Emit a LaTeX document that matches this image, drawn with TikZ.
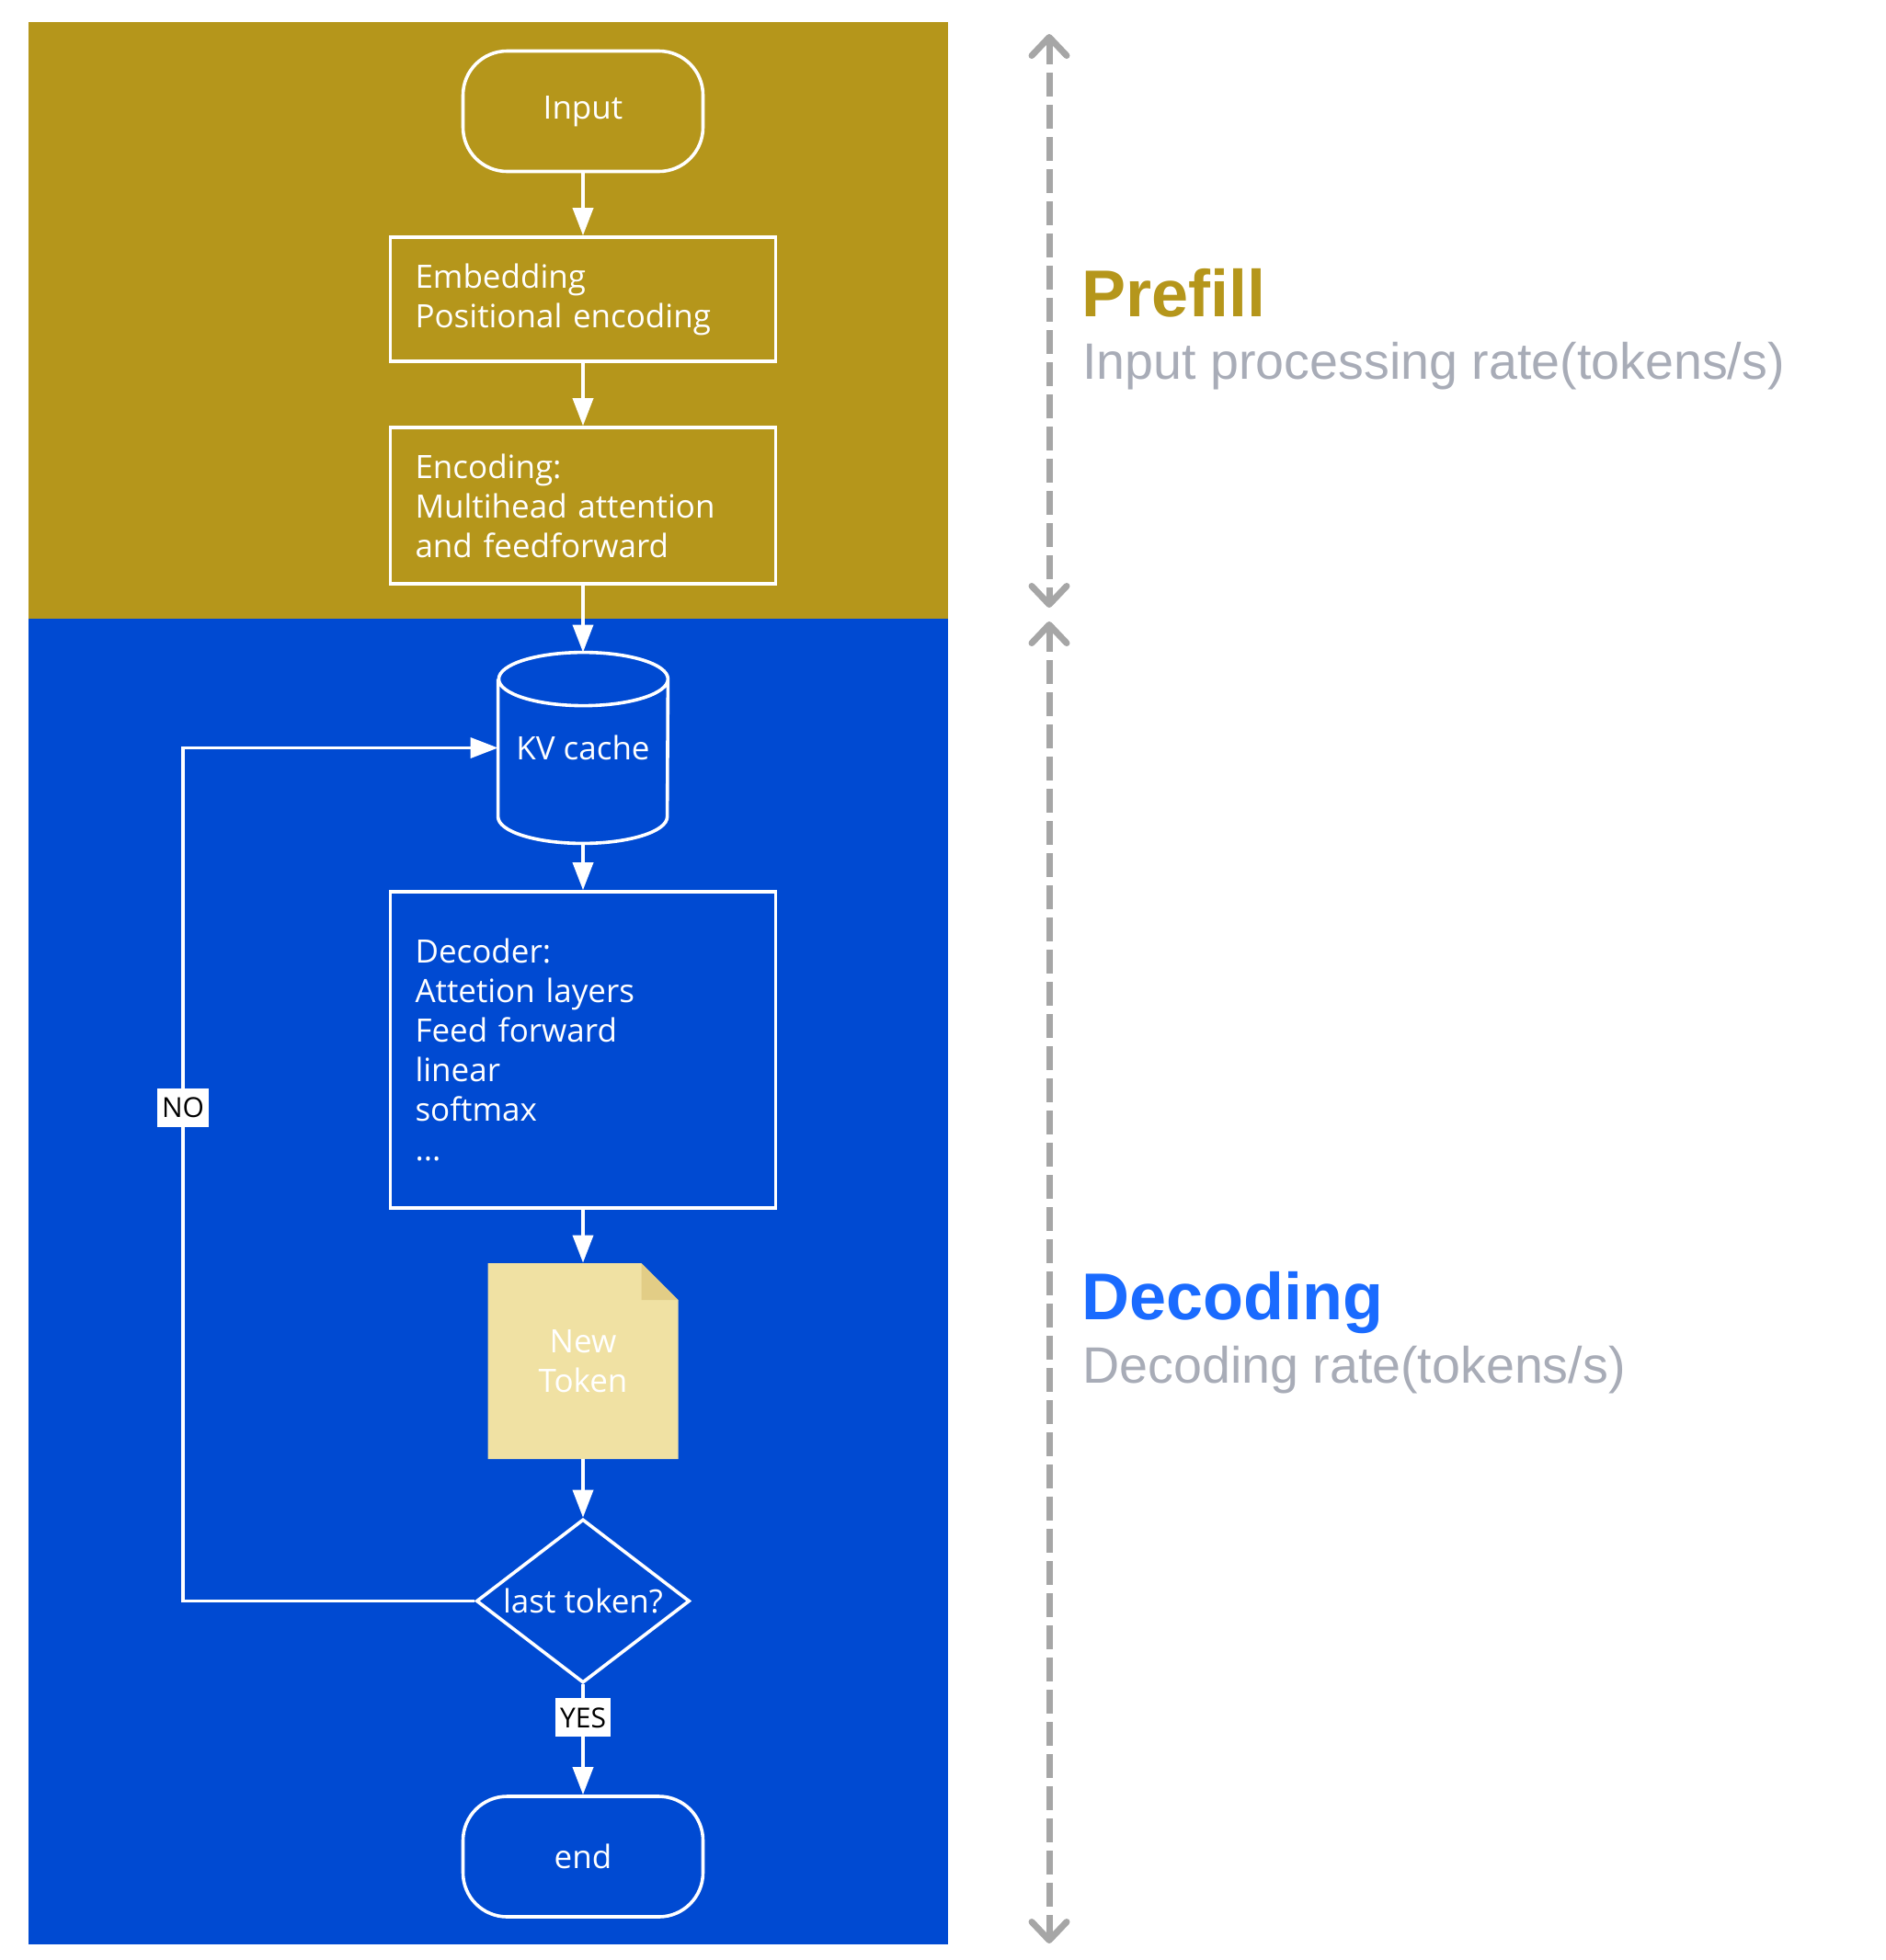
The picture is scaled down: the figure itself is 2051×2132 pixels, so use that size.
\documentclass[tikz,border=0pt]{standalone}
\usepackage{fontspec}
\setmainfont{Open Sans}
\newfontfamily\arialfont{Liberation Sans}
\usepackage{tikz}
\usetikzlibrary{positioning,shapes.geometric,arrows.meta}

\definecolor{prefillgold}{RGB}{181,150,27}
\definecolor{decodeblue}{RGB}{0,74,210}
\definecolor{titleblue}{RGB}{26,107,255}
\definecolor{rategrey}{RGB}{168,172,183}
\definecolor{spangrey}{RGB}{166,166,166}
\definecolor{tokenfill}{RGB}{240,225,163}
\definecolor{tokenfold}{RGB}{226,205,134}

\newcommand\flowfont{\fontsize{17.5}{21.5}\selectfont}

\tikzset{
  flow/.style = {draw = white, line width = 1.8pt, -{Triangle[length = 15pt, width = 11pt]}},
  flowbox/.style = {draw = white, line width = 1.8pt, text = white, align = left,
                    inner xsep = 13.5pt, text width = 182.5pt, font = \flowfont},
  terminal/.style = {draw = white, line width = 1.8pt, rounded corners = 24pt,
                     minimum width = 130.5pt, minimum height = 65.5pt, text = white, font = \flowfont},
  cylbox/.style = {minimum width = 92pt, minimum height = 103.5pt, inner sep = 0pt,
                   text = white, font = \flowfont},
  tokdoc/.style = {minimum width = 103.5pt, minimum height = 106.5pt, inner sep = 0pt,
                   text = white, align = center, font = \flowfont, fill = decodeblue,
                   path picture = {
                     \fill[tokenfill] (path picture bounding box.north west)
                       -- ([xshift = -20pt]path picture bounding box.north east)
                       -- ([yshift = -20pt]path picture bounding box.north east)
                       -- (path picture bounding box.south east)
                       -- (path picture bounding box.south west) -- cycle;
                     \fill[tokenfold] ([xshift = -20pt]path picture bounding box.north east)
                       -- ([xshift = -20pt, yshift = -20pt]path picture bounding box.north east)
                       -- ([yshift = -20pt]path picture bounding box.north east) -- cycle;}},
  decision/.style = {diamond, draw = white, line width = 1.8pt, aspect = 1.3, minimum width = 116pt,
                     minimum height = 89pt, inner sep = 0pt, text = white, font = \flowfont},
  lbl/.style = {fill = white, text = black, inner xsep = 2.5pt, inner ysep = 5pt,
                font = \fontsize{15}{18}\selectfont},
  span/.style = {draw = spangrey, line width = 3.5pt, dash pattern = on 13pt off 4.5pt,
                 {Straight Barb[length = 10pt, width = 19pt, round]}-{Straight Barb[length = 10pt, width = 19pt, round]}},
  title/.style = {anchor = base west, inner sep = 0pt, font = \arialfont\bfseries\fontsize{36}{40}\selectfont},
  rate/.style = {anchor = base west, inner sep = 0pt, text = rategrey, font = \arialfont\fontsize{27.8}{32}\selectfont}
}

\begin{document}
\begin{tikzpicture}[x = 0.5pt, y = 0.5pt]
    \useasboundingbox (0,0) rectangle (2051,-2132);

    % stage panels
    \fill[prefillgold] (31,-24) rectangle (1031,-673);
    \fill[decodeblue] (31,-673) rectangle (1031,-2115);

    % flow
    \node [terminal] (input) at (634,-121) {Input};
    \node [flowbox, minimum height = 67.5pt] (emb) at (634,-325.5)
          {Embedding\\Positional encoding};
    \node [flowbox, minimum height = 85pt] (enc) at (634,-550)
          {Encoding:\\Multihead attention\\and feedforward};
    \node [cylbox] (kv) at (634,-813.5) {KV cache};
    \draw [white, line width = 1.8pt]
          ([yshift = -14.5pt]kv.north west) -- ([yshift = 14.5pt]kv.south west)
          arc [start angle = 180, end angle = 360, x radius = 46pt, y radius = 14.5pt]
          -- ([yshift = -14.5pt]kv.north east)
          arc [start angle = 0, end angle = 180, x radius = 46pt, y radius = 14.5pt]
          arc [start angle = 180, end angle = 360, x radius = 46pt, y radius = 14.5pt];
    \node [flowbox, minimum height = 172pt] (dec) at (634,-1142)
          {Decoder:\\Attetion layers\\Feed forward\\linear\\softmax\\...};
    \node [tokdoc] (tok) at (634,-1480.5) {New\\Token};
    \node [decision] (last) at (634,-1741.5) {last token?};
    \node [terminal] (fin) at (634,-2019.5) {end};

    \draw [flow] (input) -- (emb);
    \draw [flow] (emb) -- (enc);
    \draw [flow] (enc) -- (kv.north);
    \draw [flow] (kv.south) -- (dec);
    \draw [flow] (dec) -- (tok);
    \draw [flow] (tok) -- (last);
    \draw [flow] (last.south) -- node [lbl, pos = 0.3] {YES} (fin);

    % loop back
    \coordinate (loop) at (199,0);
    \draw [flow] (last.west) -- (loop |- last.west)
          -- node [lbl, pos = 0.578] {NO} (loop |- kv.west) -- (kv.west);

    % stage spans
    \coordinate (pfTop) at (1141,-37);
    \coordinate (pfBot) at (1141,-661);
    \coordinate (dcTop) at (1141,-676);
    \coordinate (dcBot) at (1141,-2114);
    \draw [span] (pfTop) -- (pfBot);
    \draw [span] (dcTop) -- (dcBot);

    \node [title, text = prefillgold] (pfTitle) at (1176,-344) {Prefill};
    \node [rate] (pfRate) at (1177,-412) {Input processing rate(tokens/s)};
    \node [title, text = titleblue] (dcTitle) at (1176,-1435) {Decoding};
    \node [rate] (dcRate) at (1177,-1504) {Decoding rate(tokens/s)};
\end{tikzpicture}
\end{document}
